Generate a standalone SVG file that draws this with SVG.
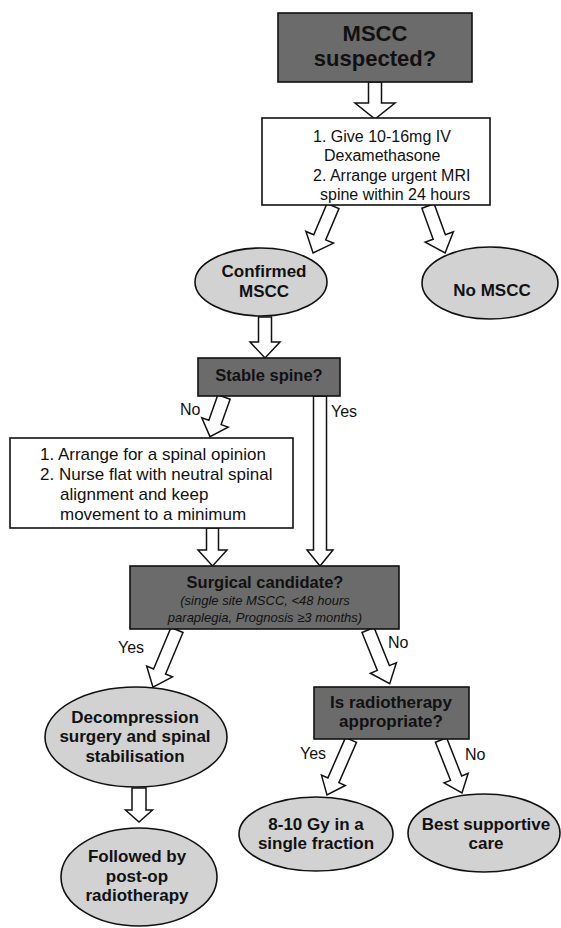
<svg xmlns="http://www.w3.org/2000/svg" width="561" height="928" viewBox="0 0 561 928">
<style>
.dark{fill:#6b6b6b;stroke:#111;stroke-width:1.6}
.white{fill:#fff;stroke:#111;stroke-width:1.6}
.oval{fill:#d2d2d2;stroke:#111;stroke-width:1.6}
.arr{fill:#fff;stroke:#111;stroke-width:1.5;stroke-linejoin:miter}
text{font-family:"Liberation Sans",Arial,sans-serif;fill:#111}
.b{font-weight:bold;font-size:17px;text-anchor:middle}
.r{font-size:16px}
.r17{font-size:17px}
.it{font-style:italic;font-size:13px;text-anchor:middle}
.lab{font-size:16px}
</style>
<rect width="561" height="928" fill="#fff"/>
<g id="connectors">
<path class="arr" transform="translate(375,82)" d="M-6.5 0H6.5V21H20L0 37L-20 21H-6.5Z"/>
<path class="arr" transform="translate(333,206) rotate(23)" d="M-6.5 0H6.5V34H15L0 51L-15 34H-6.5Z"/>
<path class="arr" transform="translate(428,206) rotate(-20)" d="M-6.5 0H6.5V33H15L0 50L-15 33H-6.5Z"/>
<path class="arr" transform="translate(265,317)" d="M-6.5 0H6.5V25H15L0 41L-15 25H-6.5Z"/>
<path class="arr" transform="translate(224,397) rotate(19.5)" d="M-6.5 0H6.5V27H14L0 42L-14 27H-6.5Z"/>
<path class="arr" transform="translate(320,396)" d="M-6.5 0H6.5V154H13L0 170L-13 154H-6.5Z"/>
<path class="arr" transform="translate(212.5,528)" d="M-6 0H6V22H14.5L0 38L-14.5 22H-6Z"/>
<path class="arr" transform="translate(177,630) rotate(22.8)" d="M-6.5 0H6.5V45H14L0 62L-14 45H-6.5Z"/>
<path class="arr" transform="translate(368,630) rotate(-22)" d="M-6.5 0H6.5V41H14L0 58L-14 41H-6.5Z"/>
<path class="arr" transform="translate(139,788)" d="M-7 0H7V22H13.5L0 34L-13.5 22H-7Z"/>
<path class="arr" transform="translate(351,740) rotate(23.6)" d="M-6 0H6V44H13L0 60L-13 44H-6Z"/>
<path class="arr" transform="translate(441,740) rotate(-21.6)" d="M-6 0H6V41H13L0 57L-13 41H-6Z"/>
<text class="lab" x="180" y="415">No</text>
<text class="lab" x="331" y="417">Yes</text>
<text class="lab" x="118" y="653">Yes</text>
<text class="lab" x="388" y="648">No</text>
<text class="lab" x="300" y="759">Yes</text>
<text class="lab" x="465" y="760">No</text>
</g>
<g id="mscc-suspected">
<rect class="dark" x="278" y="13" width="194" height="69"/>
<text class="b" x="375" y="41" style="font-size:22px">MSCC</text>
<text class="b" x="375" y="66" style="font-size:22px">suspected?</text>
</g>
<g id="dexamethasone">
<rect class="white" x="262" y="118" width="228" height="87"/>
<text class="r" x="313" y="142">1. Give 10-16mg IV</text>
<text class="r" x="324" y="161">Dexamethasone</text>
<text class="r" x="313" y="181">2. Arrange urgent MRI</text>
<text class="r" x="320" y="200">spine within 24 hours</text>
</g>
<g id="confirmed">
<ellipse class="oval" cx="261" cy="282" rx="66" ry="34"/>
<text class="b" x="264" y="277">Confirmed</text>
<text class="b" x="264" y="297">MSCC</text>
</g>
<g id="no-mscc">
<ellipse class="oval" cx="490" cy="283" rx="68" ry="36"/>
<text class="b" x="492" y="296">No MSCC</text>
</g>
<g id="stable-spine">
<rect class="dark" x="198" y="358" width="142" height="38"/>
<text class="b" x="269" y="381" style="font-size:16.5px">Stable spine?</text>
</g>
<g id="spinal-opinion">
<rect class="white" x="10" y="438" width="283" height="90"/>
<text class="r17" x="40" y="460">1. Arrange for a spinal opinion</text>
<text class="r17" x="40" y="480">2. Nurse flat with neutral spinal</text>
<text class="r17" x="60" y="500">alignment and keep</text>
<text class="r17" x="60" y="520">movement to a minimum</text>
</g>
<g id="surgical-candidate">
<rect class="dark" x="130" y="566" width="269" height="63"/>
<text class="b" x="265" y="588" style="font-size:16.5px">Surgical candidate?</text>
<text class="it" x="265" y="605">(single site MSCC, &lt;48 hours</text>
<text class="it" x="265" y="622">paraplegia, Prognosis ≥3 months)</text>
</g>
<g id="decompression">
<ellipse class="oval" cx="136" cy="737" rx="91" ry="50"/>
<text class="b" x="135" y="723">Decompression</text>
<text class="b" x="135" y="742">surgery and spinal</text>
<text class="b" x="135" y="762">stabilisation</text>
</g>
<g id="followed">
<ellipse class="oval" cx="139" cy="877" rx="78" ry="49"/>
<text class="b" x="137" y="862">Followed by</text>
<text class="b" x="137" y="882">post-op</text>
<text class="b" x="137" y="901">radiotherapy</text>
</g>
<g id="radiotherapy">
<rect class="dark" x="314" y="687" width="155" height="52"/>
<text class="b" x="391" y="708">Is radiotherapy</text>
<text class="b" x="391" y="727">appropriate?</text>
</g>
<g id="single-fraction">
<ellipse class="oval" cx="316" cy="834" rx="77" ry="37"/>
<text class="b" x="316" y="830">8-10 Gy in a</text>
<text class="b" x="316" y="849">single fraction</text>
</g>
<g id="supportive">
<ellipse class="oval" cx="484" cy="833" rx="76" ry="39"/>
<text class="b" x="486" y="830">Best supportive</text>
<text class="b" x="486" y="849">care</text>
</g>
</svg>
